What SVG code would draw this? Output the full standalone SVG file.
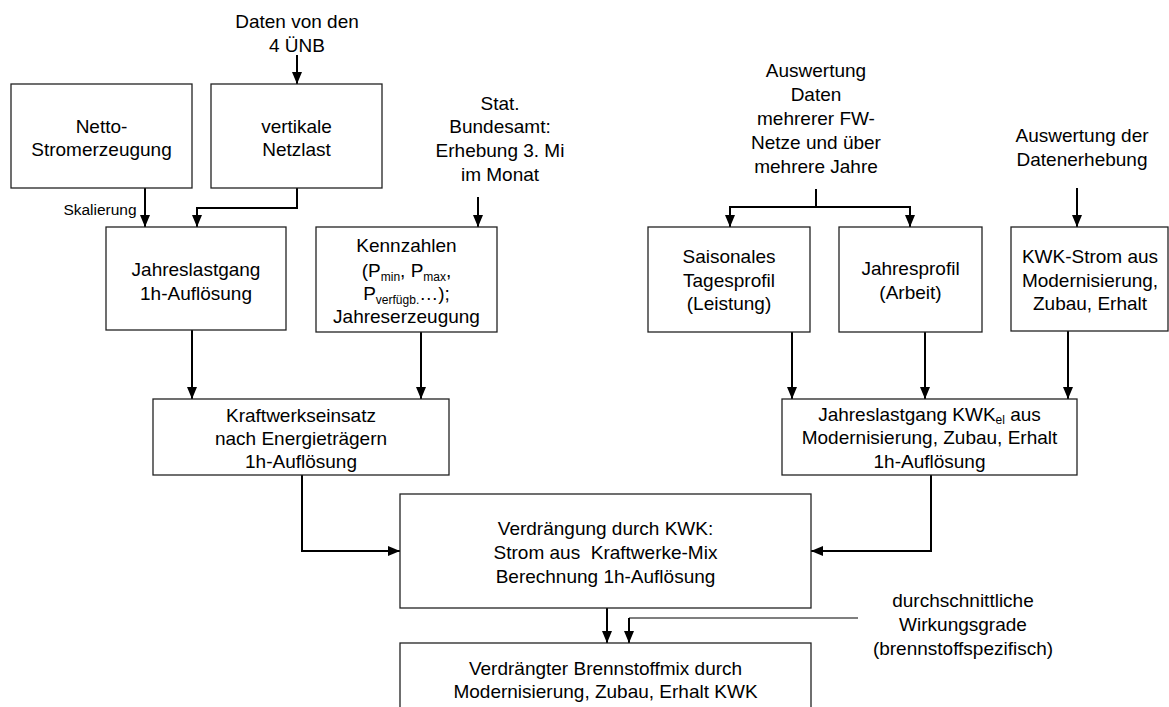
<svg xmlns="http://www.w3.org/2000/svg" width="1169" height="707" viewBox="0 0 1169 707">
<style>
text{font-family:"Liberation Sans",Arial,sans-serif;font-size:19px;fill:#000;text-anchor:middle}
.box{fill:#fff;stroke:#222;stroke-width:1.3}
.c{fill:none;stroke:#000;stroke-width:2;marker-end:url(#ah)}
.n{fill:none;stroke:#000;stroke-width:2}
.thin{fill:none;stroke:#000;stroke-width:1.2}
.sub{font-size:12px}
.small{font-size:15.5px}
</style>
<defs>
<marker id="ah" markerUnits="userSpaceOnUse" markerWidth="12" markerHeight="11" refX="12" refY="5" orient="auto"><path d="M0,0 L12,5 L0,10 z" fill="#000"/></marker>
</defs>
<rect width="1169" height="707" fill="#fff"/>

<g id="connectors">
<path class="c" d="M297,55 V84"/>
<path class="c" d="M145,188 V227"/>
<path class="c" d="M297,188 V208 H197 V227"/>
<path class="c" d="M478,197 V227"/>
<path class="c" d="M192,330 V399"/>
<path class="c" d="M421,332 V399"/>
<path class="c" d="M302,475 V551 H400"/>
<path class="c" d="M816,189 V207 H730 V227"/>
<path class="c" d="M816,207 H910 V227"/>
<path class="c" d="M1077,188 V227"/>
<path class="c" d="M792,332 V399"/>
<path class="c" d="M925,332 V399"/>
<path class="c" d="M1068,331 V399"/>
<path class="c" d="M931,475 V551 H811"/>
<path class="c" d="M607,608 V643"/>
<path class="thin" d="M858,618 H629"/>
<path class="c" d="M629,618 V643"/>
</g>

<g id="src_uenb">
<text x="297" y="28">Daten von den</text>
<text x="297" y="52">4 ÜNB</text>
</g>

<g id="netto">
<rect class="box" x="11" y="84" width="181" height="104"/>
<text x="101.5" y="133">Netto-</text>
<text x="101.5" y="156">Stromerzeugung</text>
</g>

<g id="netzlast">
<rect class="box" x="211" y="84" width="171" height="104"/>
<text x="296.5" y="133">vertikale</text>
<text x="296.5" y="156">Netzlast</text>
</g>

<g id="skalierung">
<text class="small" x="100" y="215">Skalierung</text>
</g>

<g id="src_stat">
<text x="500" y="110">Stat.</text>
<text x="500" y="133">Bundesamt:</text>
<text x="500" y="157">Erhebung 3. Mi</text>
<text x="500" y="181">im Monat</text>
</g>

<g id="jahreslastgang">
<rect class="box" x="106" y="227" width="180" height="103"/>
<text x="196" y="276">Jahreslastgang</text>
<text x="196" y="300">1h-Auflösung</text>
</g>

<g id="kennzahlen">
<rect class="box" x="316" y="227" width="181" height="105"/>
<text x="406.5" y="252">Kennzahlen</text>
<text x="406.5" y="277">(P<tspan class="sub" dy="4">min</tspan><tspan dy="-4">, P</tspan><tspan class="sub" dy="4">max</tspan><tspan dy="-4">,</tspan></text>
<text x="406.5" y="300">P<tspan class="sub" dy="4">verfügb.</tspan><tspan dy="-4">…);</tspan></text>
<text x="406.5" y="323">Jahreserzeugung</text>
</g>

<g id="kraftwerkseinsatz">
<rect class="box" x="153" y="399" width="296" height="76"/>
<text x="301" y="422">Kraftwerkseinsatz</text>
<text x="301" y="445">nach Energieträgern</text>
<text x="301" y="468">1h-Auflösung</text>
</g>

<g id="src_fw">
<text x="816" y="77">Auswertung</text>
<text x="816" y="101">Daten</text>
<text x="816" y="125">mehrerer FW-</text>
<text x="816" y="149">Netze und über</text>
<text x="816" y="173">mehrere Jahre</text>
</g>

<g id="src_erhebung">
<text x="1082" y="142">Auswertung der</text>
<text x="1082" y="166">Datenerhebung</text>
</g>

<g id="saisonal">
<rect class="box" x="648" y="227" width="162" height="105"/>
<text x="729" y="263">Saisonales</text>
<text x="729" y="287">Tagesprofil</text>
<text x="729" y="310">(Leistung)</text>
</g>

<g id="jahresprofil">
<rect class="box" x="839" y="227" width="143" height="105"/>
<text x="910.5" y="275">Jahresprofil</text>
<text x="910.5" y="299">(Arbeit)</text>
</g>

<g id="kwkstrom">
<rect class="box" x="1011" y="227" width="157" height="104"/>
<text x="1090" y="263">KWK-Strom aus</text>
<text x="1090" y="287">Modernisierung,</text>
<text x="1090" y="310">Zubau, Erhalt</text>
</g>

<g id="kwkel">
<rect class="box" x="782" y="399" width="295" height="76"/>
<text x="929.5" y="421">Jahreslastgang KWK<tspan class="sub" dy="3">el</tspan><tspan dy="-3"> aus</tspan></text>
<text x="929.5" y="444">Modernisierung, Zubau, Erhalt</text>
<text x="929.5" y="468">1h-Auflösung</text>
</g>

<g id="verdraengung">
<rect class="box" x="400" y="494" width="411" height="114"/>
<text x="605.5" y="535">Verdrängung durch KWK:</text>
<text x="605.5" y="559" xml:space="preserve">Strom aus  Kraftwerke-Mix</text>
<text x="605.5" y="583">Berechnung 1h-Auflösung</text>
</g>

<g id="wirkungsgrade">
<text x="963" y="607">durchschnittliche</text>
<text x="963" y="631">Wirkungsgrade</text>
<text x="963" y="655">(brennstoffspezifisch)</text>
</g>

<g id="brennstoffmix">
<rect class="box" x="400" y="643" width="411" height="80"/>
<text x="605.5" y="675">Verdrängter Brennstoffmix durch</text>
<text x="605.5" y="698">Modernisierung, Zubau, Erhalt KWK</text>
</g>
</svg>
